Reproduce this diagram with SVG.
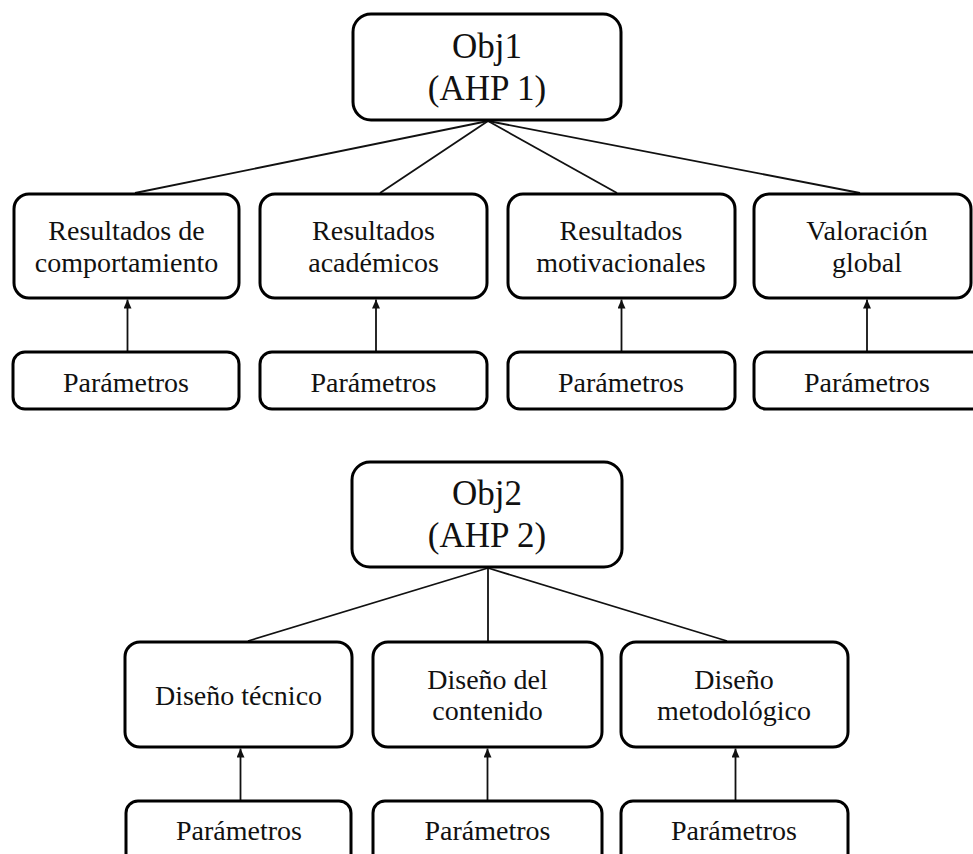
<svg xmlns="http://www.w3.org/2000/svg" width="973" height="854" viewBox="0 0 973 854">
<style>
.box{fill:#fff;stroke:#000;stroke-width:3}
.t{font-family:"Liberation Serif","Times New Roman",serif;font-size:28px;fill:#111;text-anchor:middle}
.big{font-size:35px}
.c{stroke:#111;stroke-width:1.8;fill:none}
.a{stroke:#111;stroke-width:1.8;fill:none;marker-end:url(#ah)}
</style>
<defs>
<marker id="ah" viewBox="0 0 9 8" refX="9" refY="4" markerWidth="9" markerHeight="8" markerUnits="userSpaceOnUse" orient="auto">
<path d="M0,0 L9,4 L0,8 Z" fill="#111"/>
</marker>
</defs>
<rect width="973" height="854" fill="#fff"/>
<g id="connectors">
<line class="c" x1="488" y1="121" x2="135" y2="193"/>
<line class="c" x1="488" y1="121" x2="380" y2="193"/>
<line class="c" x1="488" y1="121" x2="617" y2="193"/>
<line class="c" x1="488" y1="121" x2="860" y2="193"/>
<line class="c" x1="488" y1="568" x2="248" y2="641"/>
<line class="c" x1="488" y1="568" x2="488" y2="641"/>
<line class="c" x1="488" y1="568" x2="727" y2="641"/>
<line class="a" x1="127.5" y1="352" x2="127.5" y2="299.5"/>
<line class="a" x1="376" y1="352" x2="376" y2="299.5"/>
<line class="a" x1="621.5" y1="352" x2="621.5" y2="299.5"/>
<line class="a" x1="867" y1="352" x2="867" y2="299.5"/>
<line class="a" x1="240.5" y1="801" x2="240.5" y2="748.5"/>
<line class="a" x1="487.5" y1="801" x2="487.5" y2="748.5"/>
<line class="a" x1="735.5" y1="801" x2="735.5" y2="748.5"/>
</g>
<g id="obj1"><rect class="box" x="353" y="14" width="268" height="106" rx="18"/><text class="t big" x="487" y="58">Obj1</text><text class="t big" x="487" y="100">(AHP 1)</text></g>
<g id="r1"><rect class="box" x="14" y="194" width="225" height="104" rx="15"/><text class="t" x="126.5" y="240">Resultados de</text><text class="t" x="126.5" y="272">comportamiento</text></g>
<g id="r2"><rect class="box" x="260" y="194" width="227" height="104" rx="15"/><text class="t" x="373.5" y="240">Resultados</text><text class="t" x="373.5" y="272">académicos</text></g>
<g id="r3"><rect class="box" x="508" y="194" width="227" height="104" rx="15"/><text class="t" x="621" y="240">Resultados</text><text class="t" x="621" y="272">motivacionales</text></g>
<g id="r4"><rect class="box" x="754" y="194" width="217" height="104" rx="15"/><text class="t" x="867" y="240">Valoración</text><text class="t" x="867" y="272">global</text></g>
<g id="p1"><rect class="box" x="13" y="352" width="226" height="57" rx="12"/><text class="t" x="126" y="392">Parámetros</text></g>
<g id="p2"><rect class="box" x="260" y="352" width="227" height="57" rx="12"/><text class="t" x="373.5" y="392">Parámetros</text></g>
<g id="p3"><rect class="box" x="508" y="352" width="227" height="57" rx="12"/><text class="t" x="621" y="392">Parámetros</text></g>
<g id="p4"><rect class="box" x="754" y="352" width="240" height="57" rx="12"/><text class="t" x="867" y="392">Parámetros</text></g>
<g id="obj2"><rect class="box" x="352" y="462" width="270" height="105" rx="18"/><text class="t big" x="487" y="505">Obj2</text><text class="t big" x="487" y="547">(AHP 2)</text></g>
<g id="d1"><rect class="box" x="125" y="642" width="227" height="105" rx="15"/><text class="t" x="238.5" y="705">Diseño técnico</text></g>
<g id="d2"><rect class="box" x="373" y="642" width="229" height="105" rx="15"/><text class="t" x="487.5" y="689">Diseño del</text><text class="t" x="487.5" y="720">contenido</text></g>
<g id="d3"><rect class="box" x="621" y="642" width="227" height="105" rx="15"/><text class="t" x="734" y="689">Diseño</text><text class="t" x="734" y="720">metodológico</text></g>
<g id="q1"><rect class="box" x="126" y="801" width="225" height="70" rx="12"/><text class="t" x="239" y="840">Parámetros</text></g>
<g id="q2"><rect class="box" x="373" y="801" width="229" height="70" rx="12"/><text class="t" x="487.5" y="840">Parámetros</text></g>
<g id="q3"><rect class="box" x="621" y="801" width="227" height="70" rx="12"/><text class="t" x="734" y="840">Parámetros</text></g>
</svg>
